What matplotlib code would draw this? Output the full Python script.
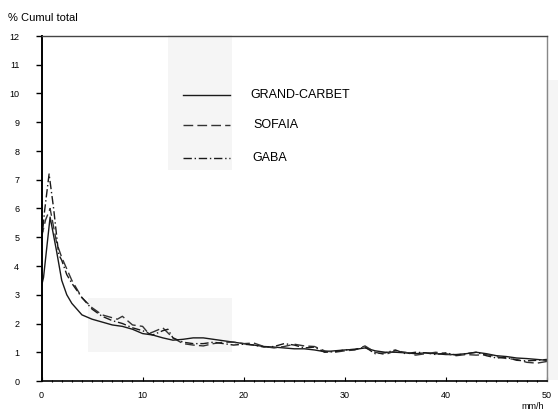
import matplotlib
matplotlib.use("Agg")
import matplotlib.pyplot as plt
from matplotlib.patches import Rectangle
from matplotlib.lines import Line2D

# Rainfall intensity classes (mm/h) and cumulative share (%) per station
x_gc = [0, 0.2, 0.85, 1.5, 2, 2.5, 3, 4, 5, 6, 7, 8, 9, 10, 11, 12, 13, 14, 15, 16,
        17, 18, 19, 20, 21, 22, 23, 24, 25, 26, 27, 28, 29, 30, 31, 32, 33, 34, 35,
        36, 37, 38, 39, 40, 41, 42, 43, 44, 45, 46, 47, 48, 49, 50]
grand_carbet = [3.3, 3.6, 5.7, 4.5, 3.5, 3.0, 2.7, 2.3, 2.15, 2.05, 1.95, 1.9, 1.8,
                1.65, 1.6, 1.5, 1.42, 1.45, 1.5, 1.5, 1.45, 1.4, 1.35, 1.3, 1.25, 1.2,
                1.18, 1.15, 1.12, 1.12, 1.08, 1.02, 1.05, 1.08, 1.1, 1.15, 1.05, 1.0,
                1.0, 0.98, 0.95, 0.98, 0.95, 0.92, 0.92, 0.95, 1.0, 0.95, 0.88, 0.85,
                0.8, 0.78, 0.75, 0.72]

x_so = [0, 0.4, 0.85, 1.5, 2, 2.5, 3, 4, 5, 6, 7, 7.5, 8, 9, 10, 10.6, 11, 12, 13, 14,
        15, 16, 17, 18, 19, 20, 21, 22, 23, 24, 25, 26, 27, 28, 29, 30, 31, 32, 33, 34,
        35, 36, 37, 38, 39, 40, 41, 42, 43, 44, 45, 46, 47, 48, 49, 50]
sofaia = [5.0, 5.6, 6.0, 4.8, 4.3, 3.9, 3.5, 2.9, 2.55, 2.3, 2.2, 2.15, 2.25, 1.95,
          1.9, 1.65, 1.7, 1.85, 1.5, 1.3, 1.25, 1.22, 1.3, 1.35, 1.35, 1.3, 1.32, 1.2,
          1.15, 1.2, 1.28, 1.22, 1.2, 1.05, 1.0, 1.05, 1.08, 1.22, 1.0, 0.92, 1.05,
          1.0, 0.9, 0.95, 1.0, 0.95, 0.88, 0.92, 0.9, 0.92, 0.85, 0.78, 0.75, 0.65,
          0.62, 0.68]

x_ga = [0, 0.3, 0.75, 1.2, 1.7, 2, 2.5, 3, 4, 5, 6, 7, 8, 9, 10, 11, 12, 12.5, 13, 14,
        15, 16, 17, 18, 19, 20, 21, 22, 23, 24, 25, 26, 27, 28, 29, 30, 31, 32, 33, 34,
        35, 36, 37, 38, 39, 40, 41, 42, 43, 44, 45, 46, 47, 48, 49, 50]
gaba = [4.8, 5.9, 7.2, 6.0, 4.4, 4.2, 3.7, 3.4, 2.9, 2.5, 2.25, 2.1, 2.0, 1.85, 1.75,
        1.6, 1.75, 1.8, 1.5, 1.35, 1.3, 1.3, 1.35, 1.3, 1.25, 1.28, 1.25, 1.18, 1.2,
        1.3, 1.25, 1.15, 1.18, 1.0, 1.02, 1.08, 1.1, 1.18, 0.95, 0.98, 1.08, 0.95, 1.0,
        0.98, 0.92, 0.98, 0.9, 0.95, 1.0, 0.88, 0.8, 0.82, 0.72, 0.7, 0.72, 0.75]

station_names = ["GRAND-CARBET", "SOFAIA", "GABA"]
x_ticks = [0, 10, 20, 30, 40, 50]
y_ticks = list(range(0, 13))

plt.rcParams["font.family"] = ["Liberation Sans", "DejaVu Sans"]

W, H = 558, 415
fig = plt.figure(figsize=(W / 100, H / 100), dpi=100)
ax = fig.add_axes([41.5 / W, 1 - 381 / H, 505.5 / W, 345 / H])


def fx(px):
    return px / W


def fy(py):
    return 1 - py / H


# faint grey patches of the photocopied page, kept behind everything
for (x0, y0, w, h) in [(168, 35, 64, 135), (88, 298, 144, 54), (546, 80, 12, 300)]:
    fig.patches.append(Rectangle((fx(x0), fy(y0 + h)), w / W, h / H,
                                 transform=fig.transFigure, facecolor="#f5f5f5",
                                 edgecolor="none", zorder=-5))
ax.set_facecolor("none")

lc = "#1a1a1a"
styles = [dict(color=lc, lw=1.0, ls="-"),
          dict(color="#333333", lw=1.0, ls=(0, (7, 3))),
          dict(color=lc, lw=1.0, ls=(0, (6, 2, 1, 2)))]

ax.plot(x_gc, grand_carbet, **styles[0])
ax.plot(x_so, sofaia, **styles[1])
ax.plot(x_ga, gaba, **styles[2])

ax.set_xlim(0, 50)
ax.set_ylim(0, 12)
ax.set_xticks(x_ticks)
ax.set_xticks(range(0, 51), minor=True)
ax.set_yticks(y_ticks)
ax.tick_params(axis="y", direction="out", length=4, width=1, labelsize=6.5, pad=12)
ax.tick_params(axis="x", which="major", direction="in", length=3, width=0.8,
               labelsize=6.5, pad=7)
ax.tick_params(axis="x", which="minor", direction="inout", length=2, width=0.8)

ax.spines["left"].set_linewidth(1.4)
ax.spines["bottom"].set_linewidth(1.2)
ax.spines["top"].set_linewidth(1.0)
ax.spines["top"].set_color("#444444")
ax.spines["right"].set_linewidth(1.0)
ax.spines["right"].set_color("#888888")

fig.text(fx(8), fy(18), "% Cumul total", fontsize=8, va="center", ha="left")
fig.text(fx(533), fy(406), "mm/h", fontsize=6.5, va="center", ha="center")

# key: sample line and station name per row
key_rows = [(95, 250), (125, 253), (158, 252)]
for (py, tx), name, st in zip(key_rows, station_names, styles):
    fig.add_artist(Line2D([fx(183), fx(230)], [fy(py), fy(py)],
                          transform=fig.transFigure, **st))
    fig.text(fx(tx), fy(py), name, fontsize=9, va="center", ha="left")

fig.savefig("out.png", dpi=100)
